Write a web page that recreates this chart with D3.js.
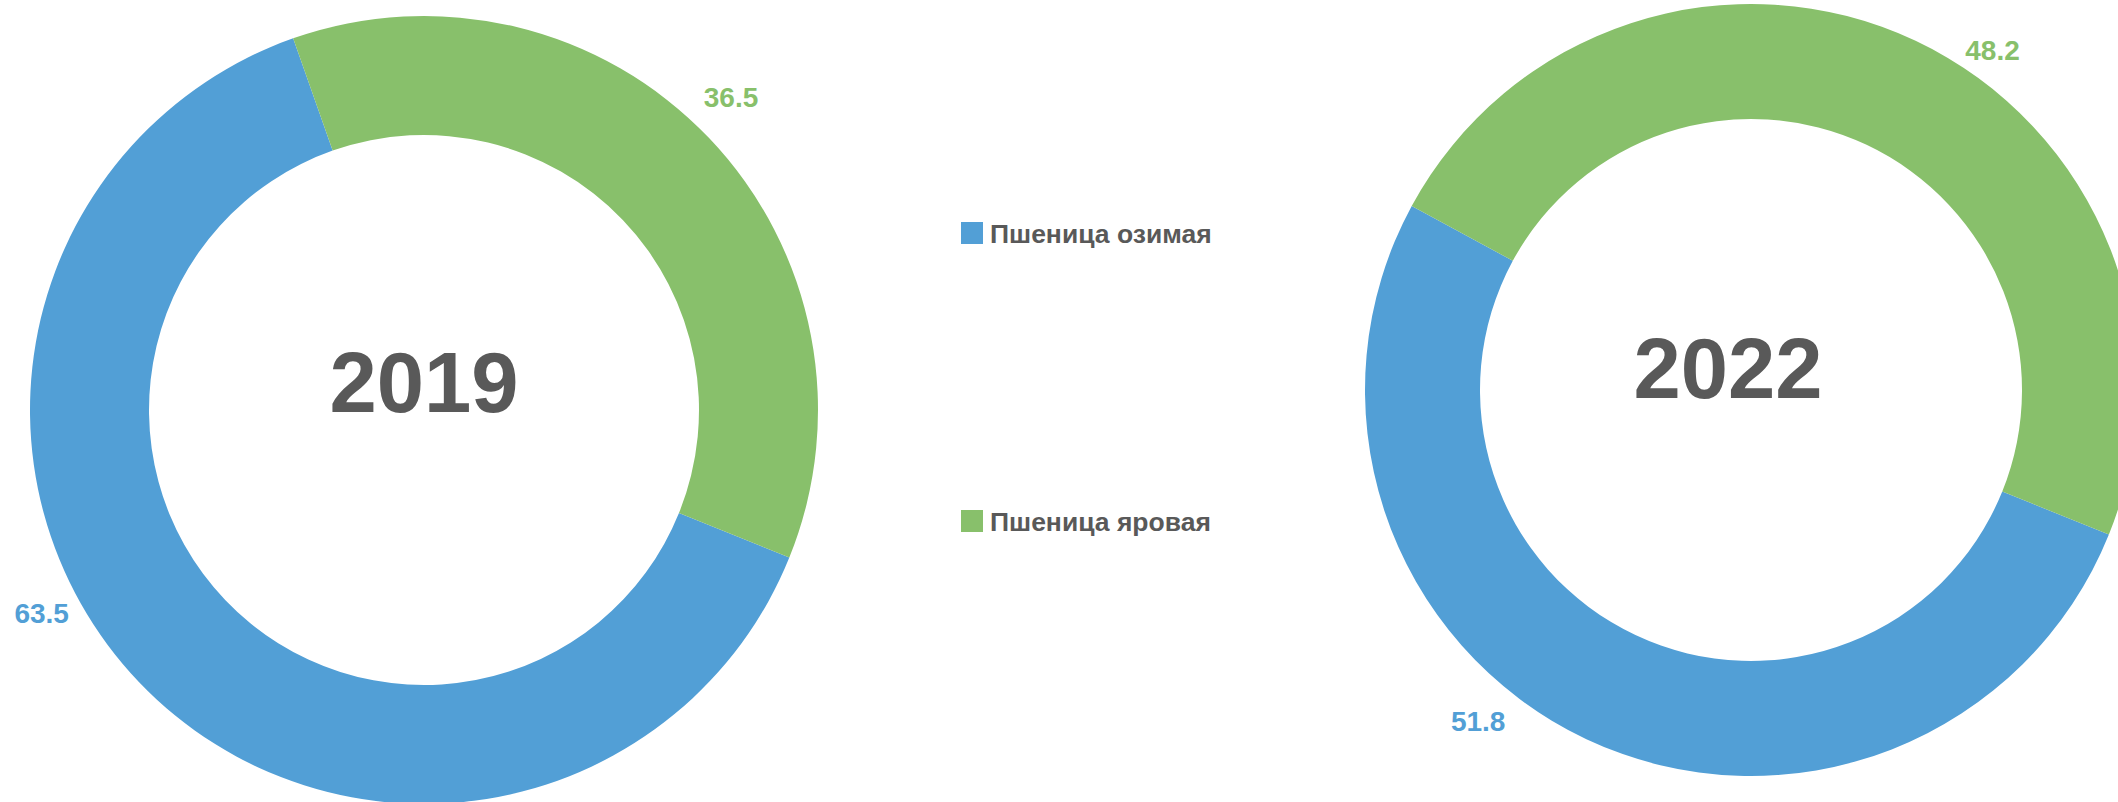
<!DOCTYPE html>
<html>
<head>
<meta charset="utf-8">
<script src="https://cdn.jsdelivr.net/npm/d3@7"></script>
<style>
  html, body { margin: 0; padding: 0; background: #fff; overflow: hidden; }
  text { font-family: "Liberation Sans", Arial, sans-serif; font-weight: bold; }
</style>
</head>
<body>
<div id="chart"></div>
<script>
// data
var categories = ["Пшеница озимая", "Пшеница яровая"];
var years = ["2019", "2022"];
var values2019 = [63.5, 36.5];
var values2022 = [51.8, 48.2];

var colors = ["#529fd6", "#88c06b"];
var textGray = "#595959";

var w = 2118, h = 802;

var svg = d3.select("#chart")
            .append("svg")
            .attr("width", w)
            .attr("height", h);

var deg = Math.PI / 180;

// layout of each donut (center, radii, year text offset, label polar spots)
var donuts = [
  {year: years[0], values: values2019, cx: 424, cy: 410, outer: 394, inner: 275,
   titleDx: 0, titleDy: -28, labels: [{a: 242, r: 433}, {a: 44.5, r: 438}]},
  {year: years[1], values: values2022, cx: 1751, cy: 390, outer: 386, inner: 271,
   titleDx: -23, titleDy: -22, labels: [{a: 219.5, r: 429}, {a: 35.4, r: 417}]}
];

var pie = d3.pie()
            .sort(null)
            .startAngle(112 * deg)
            .endAngle(472 * deg);

donuts.forEach(function(d){
  var g = svg.append("g")
             .attr("transform", "translate(" + d.cx + "," + d.cy + ")");

  var arc = d3.arc().innerRadius(d.inner).outerRadius(d.outer);

  g.selectAll("path")
   .data(pie(d.values))
   .enter()
   .append("path")
   .attr("d", arc)
   .attr("fill", function(p, i){ return colors[i]; });

  g.append("text")
   .attr("x", d.titleDx)
   .attr("y", d.titleDy)
   .attr("text-anchor", "middle")
   .attr("dominant-baseline", "central")
   .attr("font-size", "85px")
   .attr("fill", textGray)
   .text(d.year);

  g.selectAll("text.val")
   .data(d.values)
   .enter()
   .append("text")
   .attr("class", "val")
   .attr("x", function(v, i){ return Math.sin(d.labels[i].a * deg) * d.labels[i].r; })
   .attr("y", function(v, i){ return -Math.cos(d.labels[i].a * deg) * d.labels[i].r; })
   .attr("text-anchor", "middle")
   .attr("dominant-baseline", "central")
   .attr("font-size", "28px")
   .attr("fill", function(v, i){ return colors[i]; })
   .text(function(v){ return v.toFixed(1); });
});

// legend
var legend = svg.append("g")
                .attr("transform", "translate(961,222)");

var item = legend.selectAll("g")
                 .data(categories)
                 .enter()
                 .append("g")
                 .attr("transform", function(c, i){ return "translate(0," + (i * 288) + ")"; });

item.append("rect")
    .attr("width", 22)
    .attr("height", 22)
    .attr("fill", function(c, i){ return colors[i]; });

item.append("text")
    .attr("x", 29)
    .attr("y", 21)
    .attr("font-size", "26.5px")
    .attr("fill", textGray)
    .text(function(c){ return c; });
</script>
</body>
</html>
